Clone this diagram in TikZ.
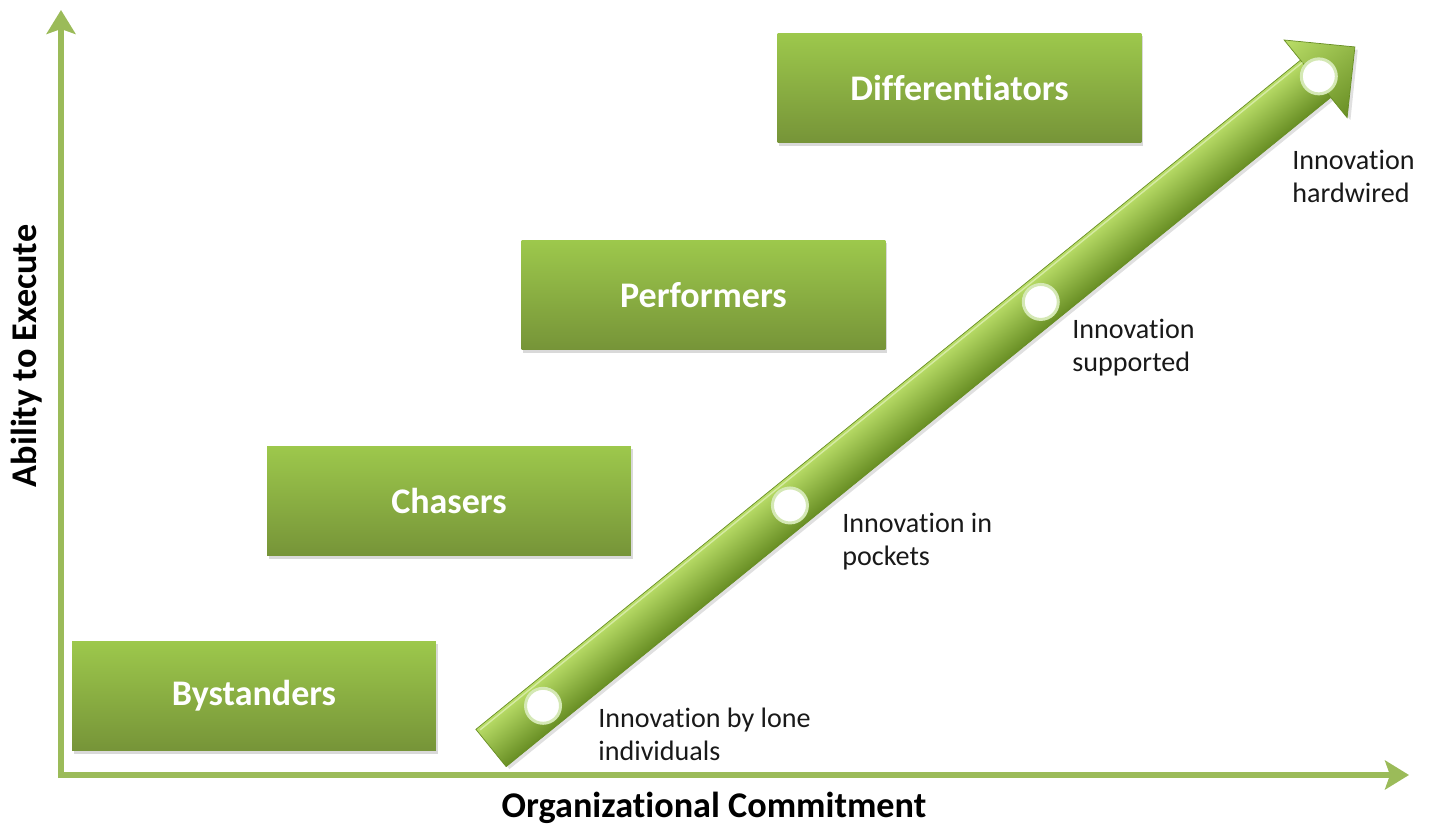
\documentclass[tikz,border=0pt]{standalone}
\usepackage{fontspec}
\setmainfont{Carlito}[Ligatures=NoCommon]
\usetikzlibrary{arrows.meta,calc,shadows}

\definecolor{axisgreen}{RGB}{155,187,89}
\definecolor{boxtop}{RGB}{157,200,76}
\definecolor{boxbot}{RGB}{118,148,56}
\definecolor{arrowlight}{RGB}{186,222,104}
\definecolor{arrowmid}{RGB}{152,200,60}
\definecolor{arrowdark}{RGB}{104,142,36}
\definecolor{ringgreen}{RGB}{212,232,180}
\definecolor{labeltext}{RGB}{25,25,25}

\begin{document}
\begin{tikzpicture}[x=0.02cm,y=0.02cm,
    stage/.style={minimum width=7.28cm,minimum height=2.2cm,inner sep=0pt,
      top color=boxtop,bottom color=boxbot,text=white,
      font=\fontsize{20.5}{24}\selectfont\bfseries,
      drop shadow={shadow xshift=1pt,shadow yshift=-1.5pt,opacity=0.3}},
    axis/.style={axisgreen,line width=3.4pt,-{Stealth[length=0.48cm,width=0.58cm,inset=0.1cm]}},
    milestone/.style={circle,fill=white,draw=ringgreen,line width=1.7pt,
      minimum size=0.7cm,inner sep=0pt},
    stagelabel/.style={anchor=north west,align=left,inner sep=0pt,text=labeltext,
      font=\fontsize{16}{18.6}\selectfont},
    axislabel/.style={anchor=base,inner sep=0pt,font=\fontsize{20.6}{24}\selectfont\bfseries}]

  \useasboundingbox (0,0) rectangle (1429,825);

  % stages
  \node[stage] (byst) at (254,129) {Bystanders};
  \node[stage] (chas) at (449,324) {Chasers};
  \node[stage] (perf) at (703.5,530) {Performers};
  \node[stage] (diff) at (959.5,737) {Differentiators};

  % axes
  \coordinate (origin) at (61,50);
  \coordinate (ytop) at (61,815);
  \coordinate (xend) at (1409,50);
  \draw[axis] ($(origin)+(0,-3)$) -- (ytop);
  \draw[axis] ($(origin)+(-3,0)$) -- (xend);
  \node[axislabel] (xlab) at (714,8) {Organizational Commitment};
  \node[axislabel,rotate=90] (ylab) at (37,469) {Ability to Execute};

  % big arrow
  \coordinate (tail) at (491,77);
  \coordinate (tip) at (1355,778);
  \begin{scope}[transform canvas={shift={(491,77)},rotate=39.06}]
    \fill[black,opacity=0.12] (1,-28) rectangle (1063,20);
    \fill[black,opacity=0.12] (1063,-54) -- (1113,-4) -- (1063,46) -- cycle;
    \shade[top color=arrowlight,middle color=arrowmid,bottom color=arrowdark,
      draw=arrowdark,line width=0.4pt] (0,-24) rectangle (1063,24);
    \shade[top color=arrowlight,middle color=arrowmid,bottom color=arrowdark,
      draw=arrowdark,line width=0.4pt] (1062,-50) -- (1112.6,0) -- (1062,50) -- cycle;
    \draw[arrowlight!60!white,line width=0.8pt] (3,21) -- (1062,21);
  \end{scope}

  \node[milestone] (m1) at ($(tail)!0.0602!(tip)$) {};
  \node[milestone] (m2) at ($(tail)!0.346!(tip)$) {};
  \node[milestone] (m3) at ($(tail)!0.6363!(tip)$) {};
  \node[milestone] (m4) at ($(tail)!0.9581!(tip)$) {};

  \node[stagelabel] (l1) at (598,117) {Innovation by lone\\individuals};
  \node[stagelabel] (l2) at (842,312) {Innovation in\\pockets};
  \node[stagelabel] (l3) at (1072,506) {Innovation\\supported};
  \node[stagelabel] (l4) at (1292,675) {Innovation\\hardwired};
\end{tikzpicture}
\end{document}
